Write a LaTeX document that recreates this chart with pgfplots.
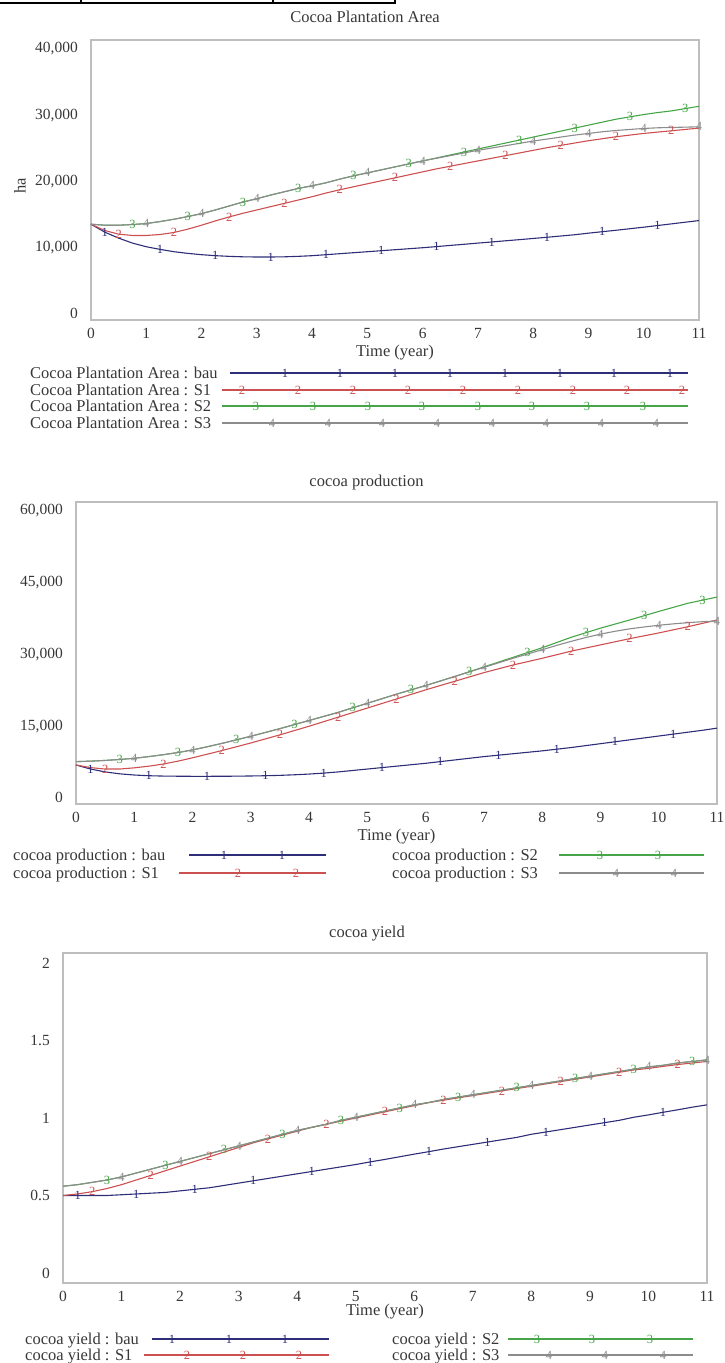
\documentclass[border=0pt]{standalone}
\usepackage{pgfplots}
\pgfplotsset{compat=1.18}
\usepackage{pgfplotstable}
\usepackage{fontspec}
\setmainfont{Liberation Serif}
\definecolor{baucol}{RGB}{45,45,120}
\definecolor{s1col}{RGB}{205,80,80}
\definecolor{s2col}{RGB}{70,165,70}
\definecolor{s3col}{RGB}{140,140,140}
\definecolor{framecol}{RGB}{190,190,190}
\definecolor{txtcol}{RGB}{55,55,55}
\newcommand{\legfont}{\fontsize{16.5}{18}\selectfont}
\newcommand{\tickfont}{\fontsize{15.5}{17}\selectfont}
\newcommand{\markfont}{\fontsize{12.5}{12.5}\selectfont}

\pgfplotstableread{
t bau s1 s2 s3
0 13400 13400 13400 13400
0.25 12200 12450 13250 13250
0.5 11300 11900 13250 13250
0.75 10550 11700 13350 13350
1 10000 11700 13500 13500
1.25 9600 11850 13800 13800
1.5 9250 12150 14150 14150
1.75 9000 12650 14550 14550
2 8800 13250 15000 15000
2.25 8650 13900 15550 15550
2.5 8550 14500 16150 16150
2.75 8480 15050 16750 16750
3 8450 15550 17250 17250
3.25 8450 16050 17800 17800
3.5 8480 16550 18300 18300
3.75 8550 17050 18800 18800
4 8650 17550 19200 19200
4.25 8800 18100 19650 19650
4.5 8950 18600 20200 20200
4.75 9100 19050 20700 20700
5 9250 19500 21150 21150
5.25 9400 19950 21600 21600
5.5 9550 20400 22050 22050
5.75 9700 20850 22500 22500
6 9850 21300 22950 22950
6.25 10020 21750 23400 23350
6.5 10200 22150 23850 23750
6.75 10370 22550 24300 24150
7 10550 22950 24750 24550
7.25 10720 23350 25200 24900
7.5 10900 23750 25650 25250
7.75 11070 24150 26100 25600
8 11250 24550 26550 25950
8.25 11430 24950 27000 26250
8.5 11620 25300 27450 26550
8.75 11810 25650 27900 26850
9 12050 26000 28350 27100
9.25 12270 26300 28800 27350
9.5 12490 26600 29250 27550
9.75 12720 26850 29600 27700
10 12950 27100 29950 27850
10.25 13200 27300 30250 27950
10.5 13450 27500 30500 28000
10.75 13700 27700 30850 28050
11 13950 27900 31200 28100
}\areadata

\pgfplotstableread{
t bau s1 s2 s3
0 6700 6700 7400 7400
0.25 5850 6150 7500 7500
0.5 5250 5850 7650 7650
0.75 4850 5850 7850 7850
1 4600 6100 8100 8100
1.25 4450 6450 8450 8450
1.5 4380 6900 8850 8850
1.75 4350 7500 9300 9300
2 4330 8200 9850 9850
2.25 4330 8950 10500 10500
2.5 4340 9700 11200 11200
2.75 4360 10500 11950 11950
3 4400 11300 12700 12700
3.25 4450 12150 13500 13500
3.5 4530 13000 14300 14300
3.75 4650 13900 15150 15150
4 4800 14800 16000 16000
4.25 5000 15750 16850 16850
4.5 5250 16700 17700 17700
4.75 5550 17650 18650 18650
5 5850 18600 19600 19600
5.25 6150 19550 20550 20550
5.5 6450 20500 21500 21500
5.75 6750 21450 22400 22400
6 7050 22400 23300 23300
6.25 7400 23300 24250 24250
6.5 7750 24200 25200 25200
6.75 8100 25100 26200 26150
7 8450 26000 27200 27100
7.25 8750 26800 28200 28050
7.5 9050 27600 29200 29000
7.75 9350 28300 30200 29900
8 9650 29000 31200 30800
8.25 10000 29750 32300 31700
8.5 10350 30500 33400 32550
8.75 10750 31150 34350 33350
9 11150 31800 35300 34050
9.25 11550 32450 36150 34650
9.5 11950 33100 37000 35150
9.75 12350 33700 37900 35550
10 12750 34300 38800 35900
10.25 13150 34950 39650 36200
10.5 13550 35600 40500 36450
10.75 13950 36300 41150 36650
11 14400 37000 41800 36800
}\proddata

\pgfplotstableread{
t bau s1 s2 s3
0 0.500 0.500 0.560 0.560
0.25 0.500 0.510 0.570 0.570
0.5 0.500 0.525 0.585 0.585
0.75 0.500 0.545 0.600 0.600
1 0.505 0.570 0.620 0.620
1.25 0.510 0.600 0.645 0.645
1.5 0.515 0.630 0.670 0.670
1.75 0.520 0.660 0.695 0.695
2 0.530 0.690 0.720 0.720
2.25 0.540 0.720 0.745 0.745
2.5 0.550 0.750 0.770 0.770
2.75 0.565 0.780 0.795 0.795
3 0.580 0.810 0.820 0.820
3.25 0.595 0.840 0.845 0.845
3.5 0.610 0.865 0.870 0.870
3.75 0.625 0.890 0.895 0.895
4 0.640 0.915 0.920 0.920
4.25 0.655 0.940 0.940 0.940
4.5 0.670 0.960 0.960 0.960
4.75 0.685 0.980 0.985 0.985
5 0.700 1.000 1.005 1.005
5.25 0.717 1.020 1.025 1.025
5.5 0.733 1.040 1.045 1.045
5.75 0.750 1.060 1.065 1.065
6 0.767 1.080 1.085 1.085
6.25 0.783 1.100 1.100 1.100
6.5 0.800 1.115 1.120 1.120
6.75 0.815 1.130 1.135 1.135
7 0.830 1.145 1.150 1.150
7.25 0.845 1.160 1.165 1.165
7.5 0.860 1.175 1.180 1.180
7.75 0.875 1.190 1.195 1.195
8 0.895 1.205 1.210 1.210
8.25 0.910 1.220 1.225 1.225
8.5 0.925 1.235 1.240 1.240
8.75 0.940 1.250 1.255 1.255
9 0.955 1.265 1.270 1.270
9.25 0.970 1.280 1.285 1.285
9.5 0.985 1.295 1.300 1.300
9.75 1.005 1.310 1.315 1.315
10 1.020 1.320 1.330 1.330
10.25 1.037 1.333 1.340 1.340
10.5 1.053 1.345 1.355 1.355
10.75 1.070 1.355 1.365 1.365
11 1.085 1.365 1.375 1.375
}\yielddata

\pgfplotsset{
  common/.style={
    scale only axis, anchor=south west,
    xmin=0, xmax=11,
    scaled y ticks=false, scaled x ticks=false,
    xtick={0,1,2,3,4,5,6,7,8,9,10,11},
    xticklabels={0,1,2,3,4,5,6,7,8,9,10,11},
    major tick length=0pt,
    axis line style={draw=framecol, line width=1.3pt},
    tick label style={font=\tickfont, text=txtcol},
    xticklabel style={anchor=base, inner sep=0pt, yshift=-18pt},
    yticklabel style={anchor=base east, inner sep=0pt, xshift=-13pt, yshift=-5pt},
    title style={font=\legfont, text=txtcol, at={(0.5,1)}, anchor=base, yshift=10pt},
    xlabel style={font=\legfont, text=txtcol, at={(axis description cs:0.5,0)}, anchor=base, yshift=-36pt},
  },
  bau/.style={baucol, line width=1.1pt, mark=text, text mark={\markfont\textcolor{baucol}{1}}, mark repeat=4, mark phase=2},
  sone/.style={s1col, line width=1.1pt, mark=text, text mark={\markfont\textcolor{s1col}{2}}, mark repeat=4, mark phase=3},
  stwo/.style={s2col, line width=1.1pt, mark=text, text mark={\markfont\textcolor{s2col}{3}}, mark repeat=4, mark phase=4},
  sthree/.style={s3col, line width=1.1pt, mark=text, text mark={\markfont\textcolor{s3col}{4}}, mark repeat=4, mark phase=5},
}

\newcommand{\LegRow}[8]{%
  \node[anchor=base west, inner sep=0pt, font=\legfont, text=txtcol] at (#2pt,-#3pt-5pt) {#4};
  \draw[#1, line width=1.1pt] (#5pt,-#3pt) -- (#6pt,-#3pt);
  \foreach \mx in {#8} {\node[#1, inner sep=0pt, font=\markfont] at (\mx pt,-#3pt) {#7};}
}

\begin{document}
\begin{tikzpicture}
\useasboundingbox (0,0) rectangle (724pt,-1363pt);
% fragment of a table border at the top
\draw[line width=2.5pt] (0,-3pt) -- (396pt,-3pt);
\draw[line width=2pt] (81pt,0) -- (81pt,-4pt);
\draw[line width=2pt] (273pt,0) -- (273pt,-4pt);
\draw[line width=2pt] (395pt,0) -- (395pt,-4pt);

% ---------- Panel 1 ----------
\begin{axis}[common, at={(91pt,-320pt)}, width=608pt, height=280pt,
  ymin=-1057, ymax=41200,
  ytick={0,10000,20000,30000,40000},
  yticklabels={0,{10,000},{20,000},{30,000},{40,000}},
  title={Cocoa Plantation Area}, title style={xshift=-30pt, yshift=2pt},
  xlabel={Time (year)},
  ylabel={ha}, ylabel style={font=\legfont, text=txtcol, at={(axis description cs:-0.117,0.48)}, anchor=center},
]
\addplot[bau] table[x=t,y=bau]{\areadata};
\addplot[sone] table[x=t,y=s1]{\areadata};
\addplot[stwo] table[x=t,y=s2]{\areadata};
\addplot[sthree] table[x=t,y=s3]{\areadata};
\end{axis}
\LegRow{baucol}{30}{373}{Cocoa Plantation Area : bau}{230}{688}{1}{285,340,395,450,505,560,614,670}
\LegRow{s1col}{30}{390}{Cocoa Plantation Area : S1}{222}{688}{2}{242,298,353,408,463,518,573,627,682}
\LegRow{s2col}{30}{406}{Cocoa Plantation Area : S2}{222}{688}{3}{256,313,368,422,478,532,587,643}
\LegRow{s3col}{30}{423}{Cocoa Plantation Area : S3}{222}{688}{4}{272,328,382,437,492,546,601,656}

% ---------- Panel 2 ----------
\begin{axis}[common, at={(76pt,-804pt)}, width=641pt, height=302pt,
  ymin=-1460, ymax=61670,
  ytick={0,15000,30000,45000,60000},
  yticklabels={0,{15,000},{30,000},{45,000},{60,000}},
  title={cocoa production}, title style={xshift=-30pt},
  xlabel={Time (year)},
]
\addplot[bau] table[x=t,y=bau]{\proddata};
\addplot[sone] table[x=t,y=s1]{\proddata};
\addplot[stwo] table[x=t,y=s2]{\proddata};
\addplot[sthree] table[x=t,y=s3]{\proddata};
\end{axis}
\LegRow{baucol}{13}{855}{cocoa production : bau}{189}{326}{1}{224,282}
\LegRow{s1col}{13}{873}{cocoa production : S1}{179}{326}{2}{238,296}
\LegRow{s2col}{392}{855}{cocoa production : S2}{559}{704}{3}{600,658}
\LegRow{s3col}{392}{873}{cocoa production : S3}{559}{704}{4}{616,674}

% ---------- Panel 3 ----------
\begin{axis}[common, at={(63pt,-1283pt)}, width=644pt, height=330pt,
  ymin=-0.0645, ymax=2.0645,
  ytick={0,0.5,1,1.5,2},
  yticklabels={0,0.5,1,1.5,2},
  title={cocoa yield}, title style={xshift=-18pt},
  xlabel={Time (year)}, xlabel style={yshift=4pt},
]
\addplot[bau] table[x=t,y=bau]{\yielddata};
\addplot[sone] table[x=t,y=s1]{\yielddata};
\addplot[stwo] table[x=t,y=s2]{\yielddata};
\addplot[sthree] table[x=t,y=s3]{\yielddata};
\end{axis}
\LegRow{baucol}{25}{1339}{cocoa yield : bau}{152}{329}{1}{172,229,285}
\LegRow{s1col}{25}{1355}{cocoa yield : S1}{144}{329}{2}{187,243,299}
\LegRow{s2col}{392}{1339}{cocoa yield : S2}{508}{693}{3}{537,592,650}
\LegRow{s3col}{392}{1355}{cocoa yield : S3}{508}{693}{4}{549,605,663}
\end{tikzpicture}
\end{document}
